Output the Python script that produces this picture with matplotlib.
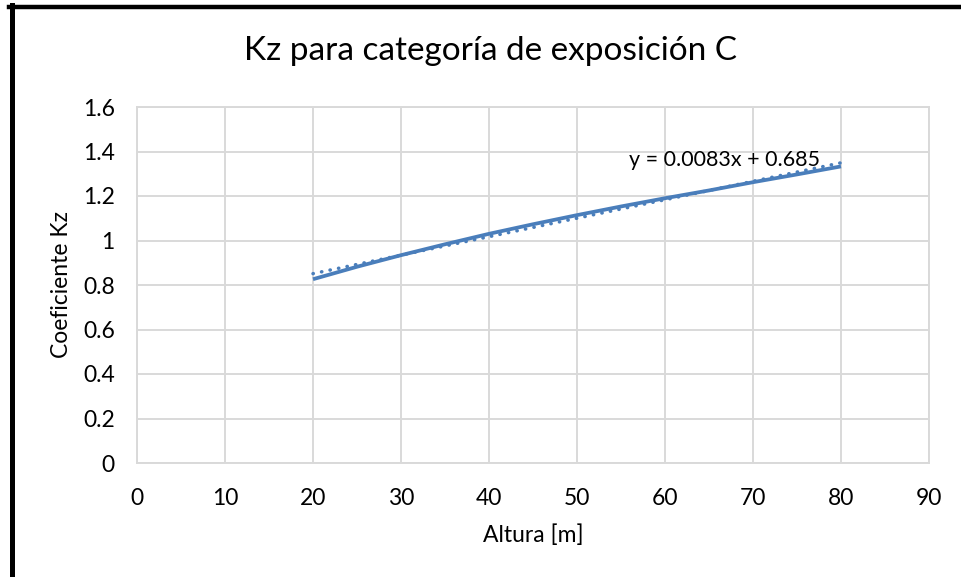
import matplotlib
matplotlib.use("Agg")
import matplotlib.pyplot as plt
import numpy as np
from matplotlib.lines import Line2D

plt.rcParams["font.family"] = ["Lato", "DejaVu Sans"]

# datos
altura = [20, 25, 30, 35, 40, 45, 50, 55, 60, 65, 70, 75, 80]
kz = [0.826, 0.882, 0.934, 0.983, 1.030, 1.073, 1.114,
      1.153, 1.190, 1.225, 1.262, 1.297, 1.333]
x_ticks = [0, 10, 20, 30, 40, 50, 60, 70, 80, 90]
y_ticks = [0, 0.2, 0.4, 0.6, 0.8, 1, 1.2, 1.4, 1.6]
y_labels = ["0", "0.2", "0.4", "0.6", "0.8", "1", "1.2", "1.4", "1.6"]

azul = "#4A7EBB"
gris = "#D9D9D9"

fig = plt.figure(figsize=(9.61, 5.77), dpi=100)
ax = fig.add_axes([137 / 961, 1 - 463 / 577, (929 - 137) / 961, (463 - 107) / 577])

# curva
ax.plot(altura, kz, color=azul, linewidth=2.7, solid_capstyle="butt", zorder=3)

# linea de tendencia
m, b = np.polyfit(altura, kz, 1)
xt = np.array([altura[0], altura[-1]])
ax.plot(xt, m * xt + b, color=azul, linewidth=2.5, linestyle=(0, (0.1, 2.4)),
        dash_capstyle="round", zorder=3)
ax.text(55.9, 1.362, f"y = {m:.4f}x + {b:.3f}", fontsize=15.5, va="center",
        ha="left", color="black", zorder=4)

ax.set_xlim(0, 90)
ax.set_ylim(0, 1.6)
ax.set_xticks(x_ticks)
ax.set_yticks(y_ticks)
ax.set_yticklabels(y_labels)
ax.tick_params(length=0, labelsize=16.5)
ax.tick_params(axis="x", pad=18)
ax.tick_params(axis="y", pad=16)
ax.grid(True, color=gris, linewidth=1.4)
ax.set_axisbelow(True)
for s in ax.spines.values():
    s.set_color(gris)
    s.set_linewidth(1.4)

ax.set_xlabel("Altura [m]", fontsize=16.5)
ax.set_ylabel("Coeficiente Kz", fontsize=16.5)
ax.xaxis.set_label_coords(0.5, -(535 - 463) / 356, transform=ax.transAxes)
ax.yaxis.set_label_coords(-(137 - 62) / 792, 0.5, transform=ax.transAxes)
ax.xaxis.label.set_va("center")
ax.yaxis.label.set_va("center")

fig.text(490 / 961, 1 - 51 / 577, "Kz para categoría de exposición C",
         fontsize=24, ha="center", va="center")

# marco negro
fig.add_artist(Line2D([9 / 961, 1.0], [1 - 7 / 577, 1 - 7 / 577],
                      color="black", linewidth=3.2, transform=fig.transFigure))
fig.add_artist(Line2D([11.5 / 961, 11.5 / 961], [0, 1 - 5 / 577],
                      color="black", linewidth=3.6, transform=fig.transFigure))

fig.savefig("out.png", dpi=100)
